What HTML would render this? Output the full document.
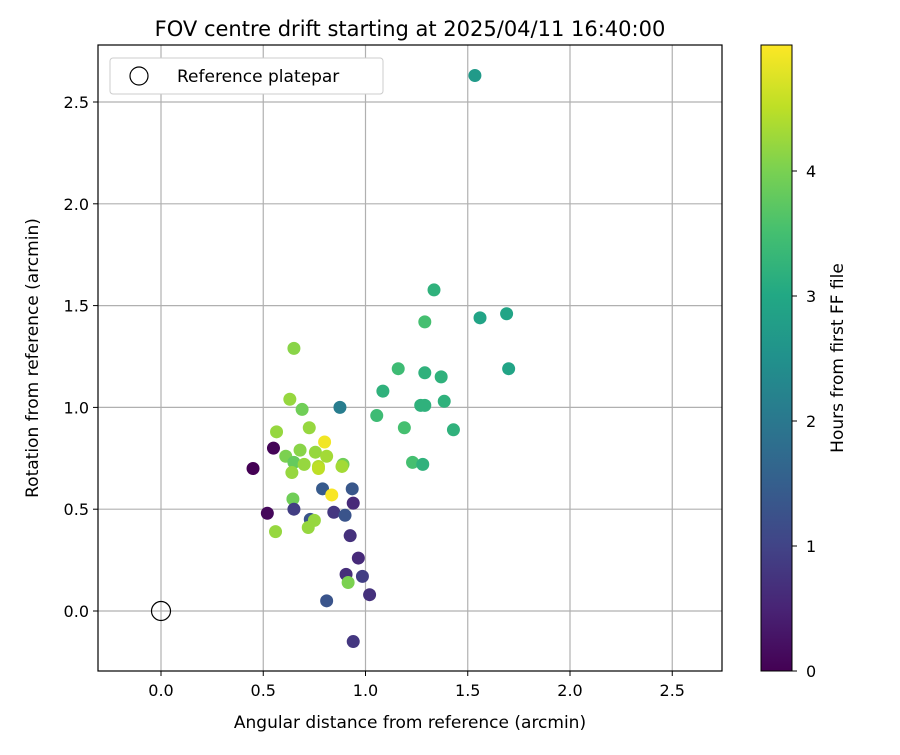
<!DOCTYPE html>
<html><head><meta charset="utf-8"><style>
body{margin:0;background:#fff;font-family:"Liberation Sans","DejaVu Sans",sans-serif}
svg text{font-family:"DejaVu Sans","Liberation Sans",sans-serif;fill:#000}
</style></head><body>
<svg id="chart" width="900" height="750" viewBox="0 0 900 750" xmlns="http://www.w3.org/2000/svg">
<defs>
<linearGradient id="vir" x1="0" y1="1" x2="0" y2="0">
<stop offset="0" stop-color="#440154"/><stop offset="0.1" stop-color="#482475"/><stop offset="0.2" stop-color="#414487"/><stop offset="0.3" stop-color="#355f8d"/><stop offset="0.4" stop-color="#2a788e"/><stop offset="0.5" stop-color="#21918c"/><stop offset="0.6" stop-color="#22a884"/><stop offset="0.7" stop-color="#44bf70"/><stop offset="0.8" stop-color="#7ad151"/><stop offset="0.9" stop-color="#bddf26"/><stop offset="1" stop-color="#fde725"/>
</linearGradient>
</defs>
<text x="410" y="36" font-size="21" text-anchor="middle">FOV centre drift starting at 2025/04/11 16:40:00</text>
<g id="grid"></g>
<g id="ticks"></g>
<g id="points"></g>
<rect x="98" y="45" width="624" height="626" fill="none" stroke="#000" stroke-width="1.2"/>
<text x="410" y="728" font-size="17" text-anchor="middle">Angular distance from reference (arcmin)</text>
<text transform="translate(38,358) rotate(-90)" font-size="17" text-anchor="middle">Rotation from reference (arcmin)</text>
<g>
<rect x="110" y="58" width="273" height="36" rx="3" fill="#fff" stroke="#ccc"/>
<circle cx="139" cy="76" r="9" fill="none" stroke="#000" stroke-width="1.2"/>
<text x="177" y="82" font-size="17">Reference platepar</text>
</g>
<rect x="761" y="45" width="31" height="626" fill="url(#vir)" stroke="#000" stroke-width="1"/>
<g id="cbticks"></g>
<text transform="translate(843,358) rotate(-90)" font-size="17" text-anchor="middle">Hours from first FF file</text>
</svg>
<script>
const xTicks=[0.0,0.5,1.0,1.5,2.0,2.5];
const yTicks=[0.0,0.5,1.0,1.5,2.0,2.5];
const cbTicks=[0,1,2,3,4];
const xs=[1.535,1.335,1.29,1.56,1.69,1.70,1.16,1.29,1.37,1.085,1.055,1.27,1.29,1.385,1.19,1.43,1.23,1.28,0.65,0.63,0.69,0.875,0.565,0.725,0.80,0.55,0.45,0.61,0.68,0.755,0.81,0.65,0.70,0.77,0.89,0.885,0.64,0.77,0.79,0.935,0.835,0.645,0.94,0.52,0.65,0.845,0.90,0.73,0.75,0.72,0.56,0.925,0.965,0.905,0.985,0.915,1.02,0.81,0.94];
const ys=[2.63,1.577,1.42,1.44,1.46,1.19,1.19,1.17,1.15,1.08,0.96,1.01,1.01,1.03,0.90,0.89,0.73,0.72,1.29,1.04,0.99,1.0,0.88,0.90,0.83,0.80,0.70,0.76,0.79,0.78,0.76,0.73,0.72,0.71,0.72,0.71,0.68,0.70,0.60,0.60,0.57,0.55,0.53,0.48,0.50,0.485,0.47,0.45,0.445,0.41,0.39,0.37,0.26,0.18,0.17,0.14,0.08,0.05,-0.15];
const hours=[2.7,3.2,3.5,2.9,2.9,2.9,3.4,3.2,3.2,3.2,3.4,3.2,3.2,3.2,3.5,3.2,3.5,3.2,4.1,4.2,3.9,2.1,4.2,4.2,4.9,0.05,0.0,4.0,4.1,4.2,4.3,3.8,4.2,4.4,3.9,4.3,4.2,4.5,1.4,1.35,4.95,3.9,0.6,0.1,0.9,0.8,1.3,1.3,4.2,4.2,4.2,0.7,0.6,0.65,0.9,4.0,0.7,1.3,0.8];
const NS="http://www.w3.org/2000/svg";
const X=v=>161+v*204.5, Y=v=>611-v*203.6, CB=h=>671-h*125;
const vir=[[68,1,84],[72,36,117],[65,68,135],[53,95,141],[42,120,142],[33,145,140],[34,168,132],[68,191,112],[122,209,81],[189,223,38],[253,231,37]];
function color(h){let t=Math.max(0,Math.min(1,h/4.99))*10;let i=Math.min(9,Math.floor(t)),f=t-i;const a=vir[i],b=vir[i+1];return `rgb(${a.map((c,k)=>Math.round(c+(b[k]-c)*f)).join(',')})`;}
function mk(tag,attrs,parent){const e=document.createElementNS(NS,tag);for(const k in attrs)e.setAttribute(k,attrs[k]);parent.appendChild(e);return e;}
const grid=document.getElementById('grid'),tk=document.getElementById('ticks'),pts=document.getElementById('points'),cb=document.getElementById('cbticks');
xTicks.forEach(v=>{const g=mk('line',{x1:X(v),x2:X(v),y1:45,y2:671,stroke:'#b0b0b0','stroke-width':1.2},grid);


mk('line',{x1:X(v),x2:X(v),y1:671,y2:676,stroke:'#000'},tk);
const t=mk('text',{x:X(v),y:696,'font-size':16,'text-anchor':'middle'},tk);t.textContent=v.toFixed(1);

});
yTicks.forEach(v=>{const g=mk('line',{x1:98,x2:722,y1:Y(v),y2:Y(v),stroke:'#b0b0b0','stroke-width':1.2},grid);


mk('line',{x1:93,x2:98,y1:Y(v),y2:Y(v),stroke:'#000'},tk);
const t=mk('text',{x:89,y:Y(v)+6,'font-size':16,'text-anchor':'end'},tk);t.textContent=v.toFixed(1);

});
cbTicks.forEach(v=>{mk('line',{x1:792,x2:797,y1:CB(v),y2:CB(v),stroke:'#000'},cb);
const t=mk('text',{x:806,y:CB(v)+6,'font-size':16},cb);t.textContent=v;

});
xs.forEach((x,i)=>{const c=mk('circle',{cx:X(x),cy:Y(ys[i]),r:6.5,fill:color(hours[i])},pts);

});
const r=mk('circle',{cx:X(0),cy:Y(0),r:9.5,fill:'none',stroke:'#000','stroke-width':1.2},pts);


</script>
</body></html>
